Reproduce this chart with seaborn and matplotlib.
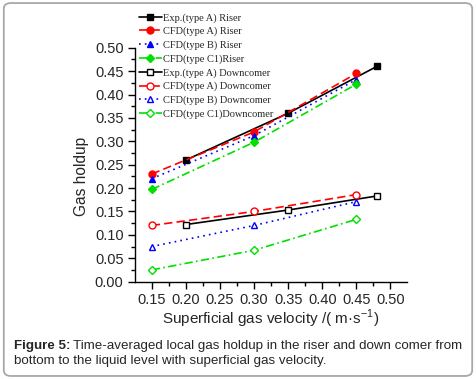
import numpy as np
import pandas as pd
import seaborn as sns
import matplotlib.pyplot as plt
from matplotlib.patches import FancyBboxPatch

# Data
vel_cfd = [0.15, 0.30, 0.45]
vel_exp = [0.20, 0.35, 0.48]

exp_a_riser = [0.260, 0.360, 0.460]
cfd_a_riser = [0.230, 0.320, 0.445]
cfd_b_riser = [0.220, 0.312, 0.432]
cfd_c1_riser = [0.197, 0.298, 0.422]

exp_a_down = [0.122, 0.153, 0.183]
cfd_a_down = [0.120, 0.150, 0.186]
cfd_b_down = [0.075, 0.120, 0.171]
cfd_c1_down = [0.025, 0.067, 0.133]

labels = ['Exp.(type A) Riser', 'CFD(type A) Riser', 'CFD(type B) Riser', 'CFD(type C1)Riser',
          'Exp.(type A) Downcomer', 'CFD(type A) Downcomer', 'CFD(type B) Downcomer',
          'CFD(type C1)Downcomer']

x_ticks = [0.15, 0.20, 0.25, 0.30, 0.35, 0.40, 0.45, 0.50]
y_ticks = [0.00, 0.05, 0.10, 0.15, 0.20, 0.25, 0.30, 0.35, 0.40, 0.45, 0.50]

sns.set_style('ticks')
plt.rcParams['font.family'] = ['Liberation Sans', 'DejaVu Sans']
plt.rcParams['mathtext.fontset'] = 'custom'
plt.rcParams['mathtext.rm'] = 'Liberation Sans'

fig = plt.figure(figsize=(4.76, 3.79), dpi=100)
ax = fig.add_axes([0.283, 0.257, 0.573, 0.617])

# (x, y, colour, marker, linestyle, filled)
series = [
    (vel_exp, exp_a_riser, 'black', 's', '-', True),
    (vel_cfd, cfd_a_riser, '#ff0000', 'o', (0, (5, 2.5)), True),
    (vel_cfd, cfd_b_riser, '#0000ff', '^', (0, (1, 2.5)), True),
    (vel_cfd, cfd_c1_riser, '#00e000', 'D', (0, (5, 2, 1, 2)), True),
    (vel_exp, exp_a_down, 'black', 's', '-', False),
    (vel_cfd, cfd_a_down, '#ff0000', 'o', (0, (5, 2.5)), False),
    (vel_cfd, cfd_b_down, '#0000ff', '^', (0, (1, 2.5)), False),
    (vel_cfd, cfd_c1_down, '#00e000', 'D', (0, (5, 2, 1, 2)), False),
]

handles = []
for (xs, ys, col, mk, ls, filled), lab in zip(series, labels):
    df = pd.DataFrame({'x': xs, 'y': ys})
    sns.lineplot(data=df, x='x', y='y', ax=ax, color=col, marker=mk,
                 linestyle=ls, linewidth=1.2,
                 markersize=5 if mk != 'D' else 4.5,
                 markerfacecolor=col if filled else 'white',
                 markeredgecolor=col, markeredgewidth=1.0)
    handles.append(ax.lines[-1])

ax.set_xlim(0.125, 0.525)
ax.set_ylim(0.0, 0.5)
ax.set_xticks(x_ticks)
ax.set_yticks(y_ticks)
ax.set_xticklabels(['%.2f' % v for v in x_ticks])
ax.set_yticklabels(['%.2f' % v for v in y_ticks])
ax.set_xticks(np.arange(0.175, 0.525, 0.05), minor=True)
ax.set_yticks(np.arange(0.025, 0.5, 0.05), minor=True)
ax.tick_params(which='major', length=5, width=1, direction='out', labelsize=10.5, pad=3, color='black')
ax.tick_params(which='minor', length=3, width=1, direction='out', color='black')
sns.despine(ax=ax)
for s in ['left', 'bottom']:
    ax.spines[s].set_color('black')
    ax.spines[s].set_linewidth(1)

ax.set_xlabel('Superficial gas velocity /( m\u00b7s$^{\\mathregular{-1}}$)', fontsize=11, labelpad=1)
ax.set_ylabel('Gas holdup', fontsize=11.2)
ax.yaxis.set_label_coords(-0.168, 0.45)

ax.legend(handles, labels, loc='upper left', frameon=False,
          bbox_to_anchor=(139 / 476, 1 - 13 / 379), bbox_transform=fig.transFigure,
          prop={'family': 'Liberation Serif', 'size': 7.5},
          handlelength=2.2, handletextpad=0.1, labelspacing=0.4,
          borderpad=0, borderaxespad=0)

# rounded frame around the figure
fig.patches.append(FancyBboxPatch((0.008, 0.008), 0.984, 0.984,
                                  boxstyle='round,pad=0,rounding_size=0.015',
                                  transform=fig.transFigure, facecolor='none',
                                  edgecolor='#a8a8a8', linewidth=1.3))

# caption
t1 = fig.text(14 / 476, 1 - 346 / 379, 'Figure 5:', fontsize=9.6, fontweight='bold', va='center')
fig.canvas.draw()
bb = t1.get_window_extent(fig.canvas.get_renderer())
fig.text(bb.x1 / 476 + 0.006, 1 - 346 / 379,
         'Time-averaged local gas holdup in the riser and down comer from',
         fontsize=9.6, va='center')
fig.text(14 / 476, 1 - 361 / 379,
         'bottom to the liquid level with superficial gas velocity.',
         fontsize=9.6, va='center')

fig.savefig('out.png', dpi=100)
